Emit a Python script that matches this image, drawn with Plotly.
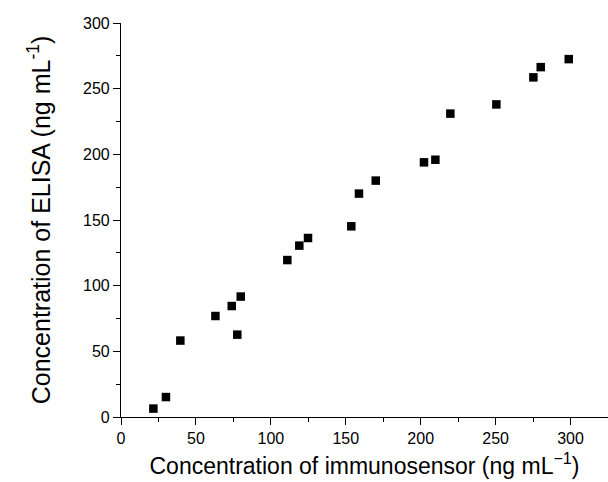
import plotly.graph_objects as go

immunosensor = [21.6, 30.0, 39.6, 63.0, 73.9, 77.6, 79.9, 111.0, 119.0, 124.8,
                153.7, 158.8, 170.0, 202.2, 209.8, 219.8, 250.5, 275.2, 280.1, 298.8]
elisa = [6.4, 15.2, 58.2, 76.9, 84.5, 62.7, 91.7, 119.5, 130.5, 136.3,
         145.2, 170.1, 180.0, 193.9, 195.9, 231.0, 238.0, 258.6, 266.4, 272.5]

x_ticks = [0, 50, 100, 150, 200, 250, 300]
y_ticks = [0, 50, 100, 150, 200, 250, 300]

font_family = "Arial, 'Liberation Sans', sans-serif"

fig = go.Figure(go.Scatter(
    x=immunosensor, y=elisa, mode="markers",
    marker=dict(symbol="square", size=8.5, color="black", line=dict(width=0)),
    showlegend=False,
))

axis_common = dict(
    showgrid=False, zeroline=False, showline=True, linecolor="black", linewidth=1.2,
    ticks="outside", ticklen=7, tickwidth=1.2, tickcolor="black",
    tickfont=dict(family=font_family, size=16, color="black"),
    minor=dict(ticks="outside", ticklen=4, tickwidth=1.2, tickcolor="black", dtick=25, showgrid=False),
)

fig.update_layout(
    width=608, height=482,
    margin=dict(l=121, r=0, t=23, b=65),
    paper_bgcolor="white", plot_bgcolor="white",
    font=dict(family=font_family, color="black"),
    xaxis=dict(
        range=[0, 325], tickvals=x_ticks, ticktext=[str(v) for v in x_ticks],
        title=dict(text="Concentration of immunosensor (ng mL<sup>\u22121</sup>)",
                   font=dict(family=font_family, size=23, color="black"), standoff=11),
        **axis_common,
    ),
    yaxis=dict(
        range=[0, 300], tickvals=y_ticks, ticktext=[str(v) for v in y_ticks],
        title=dict(text="Concentration of ELISA (ng mL<sup>-1</sup>)",
                   font=dict(family=font_family, size=25, color="black"), standoff=25),
        **axis_common,
    ),
)

fig.write_html("out.html")
